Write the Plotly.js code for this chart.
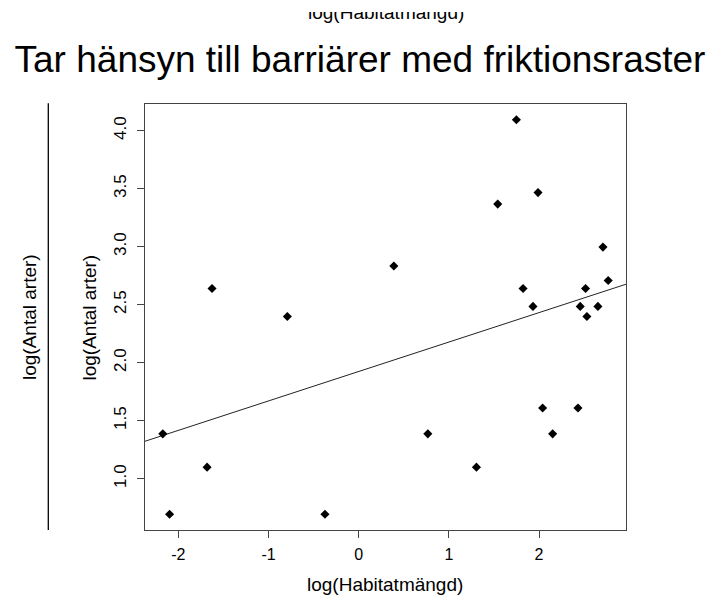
<!DOCTYPE html>
<html>
<head>
<meta charset="utf-8">
<script src="https://cdn.plot.ly/plotly-3.0.1.min.js"></script>
<style>html,body{margin:0;padding:0;background:#fff;}#chart{width:711px;height:598px;}</style>
</head>
<body>
<div id="chart"></div>
<script>
// Data (log values)
const habitat = [-2.172, -2.097, -1.681, -1.626, -0.791, -0.374, 0.390, 0.767, 1.306, 1.542, 1.749, 1.823, 1.933, 1.989, 2.040, 2.151, 2.432, 2.457, 2.516, 2.531, 2.653, 2.709, 2.767];
const antalArter = [1.386, 0.693, 1.099, 2.639, 2.398, 0.693, 2.833, 1.386, 1.099, 3.367, 4.094, 2.639, 2.485, 3.466, 1.609, 1.386, 1.609, 2.485, 2.639, 2.398, 2.485, 2.996, 2.708];
const xTickVals = [-2, -1, 0, 1, 2];
const xTickText = ["-2", "-1", "0", "1", "2"];
const yTickVals = [1.0, 1.5, 2.0, 2.5, 3.0, 3.5, 4.0];
const yTickText = ["1.0", "1.5", "2.0", "2.5", "3.0", "3.5", "4.0"];
const titleText = "Tar hänsyn till barriärer med friktionsraster";
const xLabel = "log(Habitatmängd)";
const yLabel = "log(Antal arter)";

// R-style axis ranges (4% padding)
function rRange(a) {
  const mn = Math.min(...a), mx = Math.max(...a), d = (mx - mn) * 0.04;
  return [mn - d, mx + d];
}
const xr = rRange(habitat), yr = rRange(antalArter);

// OLS fit (abline(lm(y ~ x)))
const n = habitat.length;
const mx = habitat.reduce((s, v) => s + v, 0) / n;
const my = antalArter.reduce((s, v) => s + v, 0) / n;
let sxy = 0, sxx = 0;
for (let i = 0; i < n; i++) { sxy += (habitat[i] - mx) * (antalArter[i] - my); sxx += (habitat[i] - mx) ** 2; }
const slope = sxy / sxx, icpt = my - slope * mx;
const lineX = [xr[0], xr[1]];
const lineY = lineX.map(v => icpt + slope * v);

const FONT = "Liberation Sans, Arial, sans-serif";
const L = 145, R = 626, T = 104, B = 530;
const px = v => (v - L) / (R - L);
const py = v => (B - v) / (B - T);

const traces = [
  { x: lineX, y: lineY, mode: "lines", line: { color: "#222", width: 1 }, hoverinfo: "skip" },
  { x: habitat, y: antalArter, mode: "markers", marker: { symbol: "diamond", size: 7, color: "#000" } }
];

const layout = {
  width: 711, height: 598,
  margin: { l: L, r: 711 - R, t: T, b: 598 - B, pad: 0 },
  paper_bgcolor: "#fff", plot_bgcolor: "#fff",
  showlegend: false,
  font: { family: FONT, color: "#000", size: 16 },
  title: { text: titleText, font: { family: FONT, size: 37, color: "#000" }, x: 360 / 711, xanchor: "center", xref: "container", y: 1 - 59 / 598, yanchor: "middle", yref: "container" },
  xaxis: {
    range: xr, tickmode: "array", tickvals: xTickVals, ticktext: xTickText,
    showgrid: false, zeroline: false, showline: true, mirror: true, linecolor: "#444", linewidth: 1,
    ticks: "outside", ticklen: 7, tickcolor: "#444", ticklabelstandoff: 3,
    tickfont: { family: FONT, size: 16, color: "#000" }
  },
  yaxis: {
    range: yr, tickmode: "array", tickvals: yTickVals, ticktext: yTickText, tickangle: -90,
    showgrid: false, zeroline: false, showline: true, mirror: true, linecolor: "#444", linewidth: 1,
    ticks: "outside", ticklen: 7, tickcolor: "#444", ticklabelstandoff: 4,
    tickfont: { family: FONT, size: 17, color: "#000" }
  },
  shapes: [
    { type: "line", xref: "paper", yref: "paper", x0: px(48.3), x1: px(48.3), y0: py(530), y1: py(103.3), line: { color: "#000", width: 1.3 } }
  ],
  annotations: [
    { text: xLabel, xref: "paper", yref: "paper", x: px(385), y: py(584.5), xanchor: "center", yanchor: "middle", showarrow: false, font: { family: FONT, size: 19, color: "#000" } },
    { text: yLabel, xref: "paper", yref: "paper", x: px(89), y: py(317.5), xanchor: "center", yanchor: "middle", textangle: -90, showarrow: false, font: { family: FONT, size: 19, color: "#000" } },
    { text: yLabel, xref: "paper", yref: "paper", x: px(29.5), y: py(317.5), xanchor: "center", yanchor: "middle", textangle: -90, showarrow: false, font: { family: FONT, size: 19, color: "#000" } },
    { text: xLabel, xref: "paper", yref: "paper", x: px(386), y: py(12.4), xanchor: "center", yanchor: "middle", showarrow: false, font: { family: FONT, size: 19, color: "#000" } },
    { text: " ", xref: "paper", yref: "paper", x: px(386), y: py(0), xanchor: "center", yanchor: "top", showarrow: false, width: 220, height: 12, bgcolor: "#fff", borderpad: 0, borderwidth: 0, font: { size: 8 } }
  ]
};

Plotly.newPlot("chart", traces, layout, { displayModeBar: false, staticPlot: true });
</script>
</body>
</html>
